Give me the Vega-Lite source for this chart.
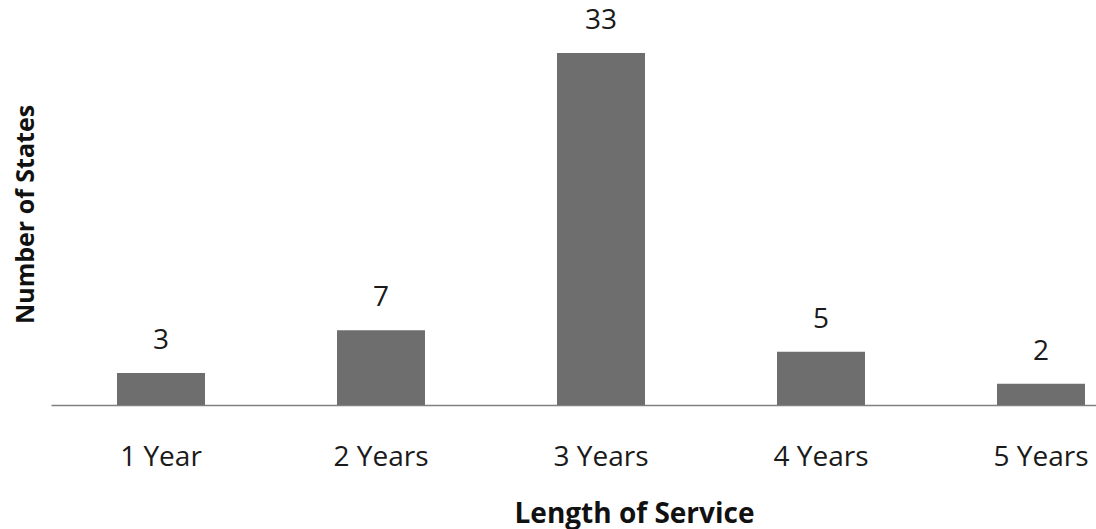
{
  "$schema": "https://vega.github.io/schema/vega-lite/v6.json",
  "width": 1045,
  "height": 352,
  "autosize": {"type": "none"},
  "padding": {"left": 51, "top": 53, "right": 0, "bottom": 124},
  "background": "white",
  "config": {
    "view": {"stroke": null},
    "font": "Open Sans"
  },
  "data": {
    "values": [
      {"service": "1 Year", "states": 3},
      {"service": "2 Years", "states": 7},
      {"service": "3 Years", "states": 33},
      {"service": "4 Years", "states": 5},
      {"service": "5 Years", "states": 2}
    ]
  },
  "encoding": {
    "x": {
      "field": "service",
      "type": "nominal",
      "sort": null,
      "scale": {"range": [0, 1100], "paddingInner": 0.6, "paddingOuter": 0.3},
      "axis": {
        "title": "Length of Service",
        "titleFont": "Open Sans",
        "titleFontSize": 28,
        "titleFontWeight": "bold",
        "titleColor": "#111111",
        "titleBaseline": "alphabetic",
        "titleX": 583,
        "titleY": 117,
        "labelAngle": 0,
        "labelFont": "Open Sans",
        "labelFontSize": 28,
        "labelColor": "#1a1a1a",
        "labelBaseline": "alphabetic",
        "labelPadding": 60,
        "ticks": false,
        "domainColor": "#808080",
        "domainWidth": 1.5
      }
    },
    "y": {
      "field": "states",
      "type": "quantitative",
      "scale": {"domain": [0, 33], "nice": false},
      "axis": {
        "title": "Number of States",
        "titleFont": "Open Sans",
        "titleFontSize": 25,
        "titleFontWeight": "bold",
        "titleColor": "#111111",
        "titleY": 161,
        "titleX": -26,
        "titleBaseline": "middle",
        "labels": false,
        "ticks": false,
        "domain": false,
        "grid": false
      }
    }
  },
  "layer": [
    {"mark": {"type": "bar", "color": "#6e6e6e"}},
    {
      "mark": {"type": "text", "baseline": "alphabetic", "dy": -24, "fontSize": 28, "font": "Open Sans", "color": "#1a1a1a"},
      "encoding": {"text": {"field": "states", "type": "quantitative"}}
    }
  ]
}
